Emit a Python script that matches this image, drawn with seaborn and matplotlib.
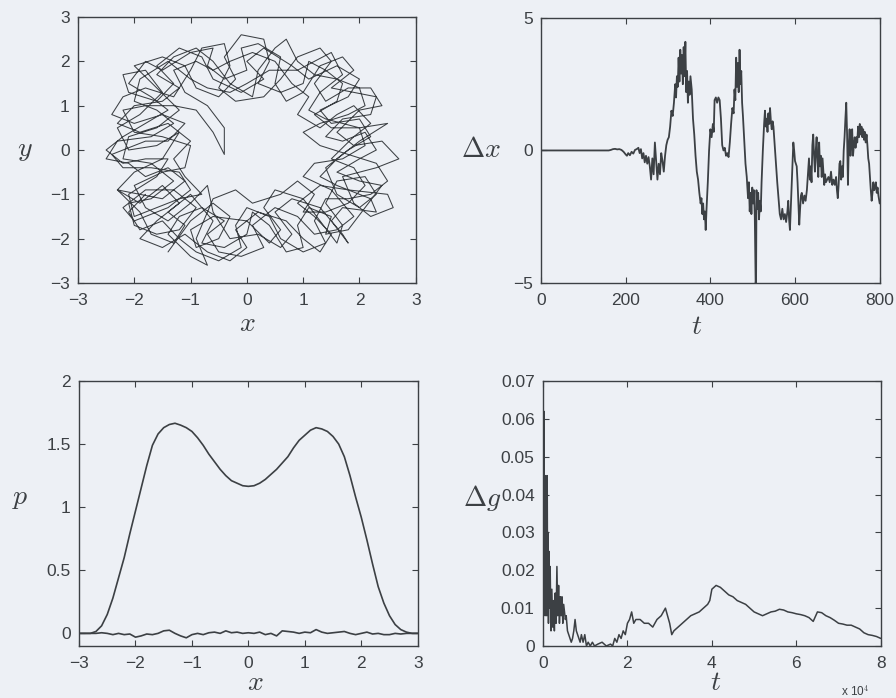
import numpy as np
import pandas as pd
import matplotlib
matplotlib.use("Agg")
import matplotlib.pyplot as plt
import seaborn as sns

# ---------------- data ----------------
# top-left: trajectory (x, y)
traj_x = [-1.4, -1.0, -0.6, -0.3, -0.5, -0.9, -1.0, -0.6, 0.0, 0.4, 0.6, 0.3, 0.5, 1.0, 1.3, 1.6, 1.7, 1.4, 1.6, 2.1,
          2.3, 2.0, 1.6, 1.4, 1.8, 2.2, 2.0, 1.5, 1.3, 1.8, 2.0, 1.6, 1.1, 0.8, 0.3, 0.0, 0.3, -0.1, -0.6, -0.8,
          -1.2, -1.6, -1.3, -1.6, -2.1, -2.2, -1.8, -1.5, -1.9, -2.3, -2.1, -1.6, -1.2, -1.5, -2.0, -2.3, -1.9, -1.5, -1.2, -1.6,
          -1.9, -1.5, -1.1,
          -0.7, -0.3, 0.0, -0.2, 0.2, 0.7, 1.0, 1.3, 1.5, 1.2, 0.9, 1.3, 1.8, 2.5, 2.6, 2.2, 1.9, 1.7, 2.3, 2.7,
          2.4, 1.9, 1.6, 2.0, 2.4, 2.2, 1.8, 1.4, 1.2, 1.5, 1.3, 0.9, 0.6, 0.3, -0.2, -0.5, -0.3, -0.4, -0.8, -1.0,
          -1.3, -1.8, -2.2, -2.4, -2.0, -1.5, -1.1, -1.4, -1.8, -2.4, -2.2, -1.7, -1.2, -1.0, -1.4, -2.0, -2.2, -1.8, -1.3, -0.9,
          -1.2,
          -1.6, -2.0, -2.1, -1.7, -1.3, -1.7, -2.2, -2.1, -1.6, -1.2, -1.6, -2.0, -1.5, -1.1, -0.9, -0.5, -0.2, -0.4, -0.1, 0.3,
          0.4, 0.2, 0.6, 1.0, 1.1, 1.4, 1.7, 1.6, 1.2, 1.5, 2.0, 2.1, 1.7, 1.2, 1.0, 1.5, 1.9, 1.6, 1.2, 0.9,
          0.5, 0.1, 0.3, -0.1, -0.5, -0.7, -0.4, -0.8, -1.2, -1.4, -1.0, -0.7, -0.9,
          -0.6, -0.2, 0.1, 0.6, 0.9, 1.2, 1.0, 1.4, 1.8, 2.1, 1.9, 1.5, 1.9, 2.2, 1.9, 1.6, 1.3, 0.9, 1.1, 0.8,
          0.5, 0.1, -0.3, -0.6, -0.9, -1.3, -1.1, -0.7, -0.4, -0.4, -0.6, -0.9, -1.3, -1.8, -2.2, -2.0, -1.5, -1.0, -1.1, -1.5,
          -2.0, -1.8, -1.4, -1.0, -0.7,
          -0.6, -0.3, 0.2, 0.6, 0.8, 0.5, 0.8, 1.3, 1.7, 1.8, 1.5, 1.7, 2.3, 2.2, 1.6, 1.3, 1.6, 2.0, 2.5, 2.0,
          1.4, 1.1, 1.3, 1.7, 1.5, 1.2, 0.9, 0.4, 0.0, -0.3, -0.7, -1.0, -1.4, -1.9, -2.0, -1.6, -1.3, -1.7, -2.3, -2.5,
          -2.1, -1.8, -1.4, -1.1, -1.5, -2.3,
          -1.9, -1.7, -1.3, -1.1, -1.4, -1.0, -0.6, -0.8, -0.4, 0.0, 0.1, 0.4, 0.7, 1.0, 0.9, 1.1, 1.5, 1.4, 1.8, 2.1,
          2.4, 2.0, 1.6, 2.0, 2.3, 2.1, 1.7, 1.4, 1.7, 2.2, 2.3, 1.9, 1.5, 1.9, 1.7, 1.3, 1.0, 0.7, 0.5, 0.6,
          0.2, -0.1, 0.0, -0.4, -0.7, -0.6, -1.0, -1.5, -1.8, -2.1, -1.7, -1.4, -1.8, -2.2, -2.5, -2.2, -1.8, -1.4, -1.6, -2.1,
          -2.0, -1.6, -1.2,
          -0.8, -1.1, -1.3, -1.0, -1.4, -1.9, -2.3, -2.0, -1.5, -1.2, -1.6, -1.3, -0.9, -0.6, -0.3, 0.1, 0.2, 0.5, 0.7, 0.9,
          1.2, 1.6, 2.0, 2.1, 1.8, 1.3, 1.0, 1.3, 1.8, 2.3, 2.5, 2.2, 1.8, 1.4, 1.2, 1.4, 1.0, 0.6, 0.4, 0.0,
          -0.2, -0.1, -0.5, -0.9, -1.2, -1.5, -1.9, -2.1, -1.8]
traj_y = [-2.3, -1.6, -1.2, -1.5, -2.0, -2.2, -1.8, -1.5, -1.6, -2.1, -1.8, -1.3, -0.9, -1.1, -1.6, -2.1, -1.7, -1.2, -0.7, -0.6,
          -1.0, -1.3, -1.0, -0.4, 0.0, 0.3, 0.7, 0.6, 0.9, 1.2, 1.6, 1.9, 1.6, 1.9, 2.3, 2.0, 1.6, 1.3, 1.6, 2.1,
          2.3, 1.9, 1.5, 1.1, 1.3, 1.7, 1.8, 1.3, 0.8, 0.5, 0.0, 0.1, 0.4, -0.2, -0.5, -0.9, -1.2, -0.8, -1.2, -1.6,
          -2.0, -2.2, -1.9,
          -2.3, -2.5, -2.2, -1.8, -1.4, -1.6, -2.0, -2.3, -1.9, -1.5, -1.2, -0.8, -0.9, -1.0, -1.3, -1.5, -1.2, -0.6, -0.4, -0.2,
          0.2, 0.1, 0.4, 0.9, 1.0, 1.4, 1.4, 1.1, 1.5, 2.0, 2.3, 2.1, 1.6, 1.2, 1.1, 1.4, 1.9, 2.4, 2.3, 1.8,
          1.2, 1.4, 1.2, 0.8, 0.6, 0.8, 0.6, 0.2, 0.2, -0.1, -0.4, -0.4, -0.5, -0.9, -1.3, -1.6, -1.3, -0.9, -0.9, -1.3,
          -1.8,
          -1.9, -1.7, -1.2, -1.1, -0.7, -0.3, -0.2, 0.3, 0.5, 0.9, 1.4, 1.9, 2.1, 1.9, 1.4, 1.2, 1.6, 2.1, 2.6, 2.5,
          2.0, 1.5, 1.3, 1.5, 2.0, 1.8, 1.5, 1.1, 0.8, 0.5, 0.5, 0.1, -0.2, -0.3, -0.6, -0.9, -1.5, -1.8, -1.9, -1.5,
          -1.3, -1.7, -2.2, -2.4, -2.3, -1.9, -1.6, -1.3, -1.5, -1.9, -2.4, -2.6, -2.0,
          -1.1, -0.9, -1.2, -1.0, -0.7, -1.0, -1.4, -1.4, -1.2, -0.8, -0.4, -0.2, 0.3, 0.6, 1.0, 0.8, 0.5, 0.8, 1.2, 1.5,
          2.0, 2.2, 2.0, 1.8, 2.0, 1.8, 1.3, 1.0, 0.5, -0.1, 0.4, 0.9, 1.0, 1.0, 0.9, 0.4, 0.3, 0.1, -0.4, -0.5,
          -0.8, -1.3, -1.6, -1.2, -0.8,
          -1.4, -2.0, -1.9, -2.2, -1.9, -1.4, -1.1, -1.3, -1.9, -2.1, -1.6, -1.3, -1.4, -1.1, -0.8, -0.6, -0.2, 0.2, 0.6, 0.5,
          0.7, 0.9, 1.3, 1.7, 2.2, 2.0, 1.8, 1.8, 1.5, 1.3, 1.4, 1.6, 2.0, 1.6, 1.1, 0.9, 0.6, 0.3, 0.2, -0.2,
          -0.3, -0.6, -0.4, -0.7, -1.1, -0.9,
          -1.4, -1.9, -2.1, -1.7, -1.4, -1.0, -1.6, -2.1, -2.2, -1.9, -1.4, -1.7, -2.3, -2.2, -1.7, -1.3, -1.5, -1.9, -1.8, -1.3,
          -0.8, -0.7, -0.5, -0.2, 0.0, 0.4, 0.2, 0.3, 0.7, 0.8, 1.2, 1.3, 1.4, 1.8, 2.1, 1.9, 1.3, 1.1, 1.5, 2.1,
          2.4, 2.3, 1.8, 1.6, 1.9, 2.3, 2.2, 1.8, 2.0, 1.5, 1.2, 0.9, 0.6, 0.3, 0.0, -0.3, -0.2, -0.2, -0.6, -1.0,
          -1.5, -1.3, -1.1,
          -1.0, -0.6, -0.2, 0.2, 0.6, 0.4, 0.6, 1.0, 1.1, 1.4, 1.7, 2.1, 2.3, 2.0, 1.5, 1.2, 1.8, 2.3, 2.5, 2.0,
          1.7, 1.6, 1.4, 1.0, 0.8, 0.6, 0.4, 0.1, -0.1, -0.3, -0.7, -1.0, -1.1, -1.1, -1.6, -2.1, -2.3, -2.0, -1.5, -1.3,
          -1.7, -2.2, -2.5, -2.3, -2.0, -1.6, -1.8, -1.4, -1.0]

# top-right: displacement difference vs time
t_dx = [0, 50, 100, 150, 160, 165, 170, 175, 180, 185, 190, 195, 200, 203, 206, 210, 214, 218, 222, 226,
        230, 233, 236, 239, 242, 245, 248, 251, 254, 257, 260, 263, 266, 269, 272, 275, 278, 281, 284, 287,
        290, 293, 296, 299, 302, 305, 308, 311, 314, 317, 319, 321, 323, 325, 327, 329, 331, 333, 335, 337,
        339, 341, 343, 345, 347, 349, 351, 353, 356, 359, 362, 365, 368, 371, 374, 377, 379, 381, 383, 385,
        387, 389, 391, 394, 397, 400, 403, 406, 408, 410, 413, 416, 419, 422, 425, 428, 431, 434, 437, 440,
        443, 446, 449, 452, 455, 457, 459, 461, 463, 465, 467, 469, 471, 473, 475, 477, 480, 483, 486, 489,
        491, 493, 495, 497, 499, 501, 503, 505, 507, 508, 509, 511, 513, 515, 517, 519, 521, 524, 527, 529,
        531, 533, 535, 537, 539, 541, 543, 545, 547, 549, 552, 555, 558, 561, 564, 567, 570, 573, 576, 579,
        582, 584, 586, 588, 590, 592, 594, 596, 598, 600, 602, 604, 606, 608, 610, 612, 614, 616, 619, 622,
        625, 628, 631, 633, 635, 637, 639, 641, 643, 645, 647, 649, 651, 653, 655, 657, 659, 661, 663, 665,
        667, 669, 671, 673, 676, 679, 682, 685, 688, 691, 694, 697, 699, 701, 703, 705, 707, 709, 711, 713,
        715, 717, 719, 721, 723, 725, 727, 729, 731, 733, 735, 737, 739, 741, 743, 745, 747, 749, 751, 753,
        755, 757, 759, 761, 763, 765, 767, 769, 771, 773, 775, 777, 779, 781, 783, 785, 787, 789, 791, 793,
        795, 797, 800]
dx = [0, 0, 0, 0, 0, 0.02, 0.05, 0.06, 0.04, 0.05, 0.02, -0.05, -0.15, -0.2, -0.1, -0.18, -0.05, -0.12, 0.02, 0.05,
      0.1, -0.1, 0.05, -0.3, -0.1, -0.45, -0.2, -0.5, -0.25, -0.6, -1.1, -0.3, -0.9, 0.3, -0.4, -1.1, -0.5, -0.9, -0.1, -0.4,
      -0.8, -0.2, 0.2, 0.4, 0.5, 0.9, 1.5, 1.3, 1.8, 2.5, 2.0, 2.8, 2.4, 3.5, 2.6, 3.8, 2.9, 3.6, 2.5, 3.9,
      2.8, 4.1, 2.2, 3.0, 1.8, 2.6, 2.1, 2.8, 2.3, 1.2, 0.6, -0.2, -0.8, -1.1, -1.6, -2.0, -1.8, -2.4, -2.0, -2.6,
      -2.3, -3.0, -2.2, -1.2, 0.0, 0.8, 0.5, 1.0, 0.7, 1.9, 2.0, 1.8, 2.0, 1.9, 1.2, 0.2, 0.0, 0.1, -0.2, -0.1,
      -0.25, 0.3, 1.0, 1.6, 1.4, 2.3, 1.9, 3.5, 2.4, 3.3, 2.2, 3.8, 2.5, 3.0, 1.8, 1.3, 0.4, -0.5, -1.0, -1.8,
      -1.2, -2.3, -1.6, -2.4, -1.4, -2.0, -1.5, -2.5, -5.0, -4.9, -1.5, -2.2, -1.6, -2.6, -1.9, -2.3, -1.2, 0.0, 1.0, 1.5,
      0.9, 1.2, 0.7, 1.4, 1.0, 1.6, 1.1, 0.8, 1.1, 0.9, 0.2, -0.5, -1.2, -1.8, -2.4, -2.6, -2.2, -2.6, -2.4, -2.7,
      -2.3, -1.9, -2.6, -3.0, -2.2, -1.5, -0.6, 0.3, 0.0, -0.4, -0.5, -0.6, -1.2, -2.0, -2.8, -2.2, -1.7, -1.6, -2.0, -1.7,
      -1.9, -1.5, -0.8, -0.3, -1.1, -0.6, -1.2, 0.2, 0.6, -0.2, -0.8, 0.0, 0.5, -0.4, -1.0, 0.3, -0.6, -0.2, -1.0, -0.3,
      -0.8, -1.3, -0.9, -1.2, -1.1, -1.0, -1.2, -0.8, -1.3, -1.1, -1.3, -1.0, -1.5, -1.8, -1.3, -0.5, -0.4, -1.1, -0.6, -1.0,
      0.0, 0.5, 1.2, 1.8, 0.6, -1.3, 0.2, 0.8, -0.2, 0.4, 0.8, -0.2, 0.2, 0.5, 0.1, 0.5, 0.3, 0.9, 0.5, 1.0,
      0.6, 0.9, 0.5, 0.8, 0.4, 0.7, 0.3, 0.6, 0.2, -0.3, -0.5, -1.0, -1.5, -1.9, -1.6, -1.2, -1.5, -1.4, -1.2, -1.6,
      -1.4, -1.7, -2.0]

# bottom-left: density p(x) and difference
x_p = [-3.0, -2.9, -2.8, -2.7, -2.6, -2.5, -2.4, -2.3, -2.2, -2.1, -2.0, -1.9, -1.8, -1.7, -1.6, -1.5, -1.4, -1.3, -1.2, -1.1,
       -1.0, -0.9, -0.8, -0.7, -0.6, -0.5, -0.4, -0.3, -0.2, -0.1, 0.0, 0.1, 0.2, 0.3, 0.4, 0.5, 0.6, 0.7, 0.8, 0.9,
       1.0, 1.1, 1.2, 1.3, 1.4, 1.5, 1.6, 1.7, 1.8, 1.9, 2.0, 2.1, 2.2, 2.3, 2.4, 2.5, 2.6, 2.7, 2.8, 2.9, 3.0]
p_vals = [0.0, 0.0, 0.0, 0.015, 0.06, 0.15, 0.28, 0.44, 0.6, 0.79, 0.97, 1.15, 1.33, 1.49, 1.58, 1.63, 1.655, 1.665, 1.65, 1.63,
          1.60, 1.55, 1.49, 1.42, 1.36, 1.30, 1.25, 1.21, 1.19, 1.17, 1.165, 1.17, 1.19, 1.22, 1.26, 1.30, 1.35, 1.40, 1.47, 1.53,
          1.57, 1.61, 1.63, 1.62, 1.60, 1.56, 1.50, 1.40, 1.25, 1.08, 0.92, 0.74, 0.55, 0.37, 0.24, 0.14, 0.07, 0.03, 0.01, 0.0, 0.0]
p_diff = [0.0, 0.0, 0.0, 0.0, 0.005, 0.0, -0.01, 0.0, -0.01, -0.005, -0.03, -0.02, -0.005, -0.01, 0.0, 0.02, 0.025, 0.0, -0.02, -0.035,
          -0.01, 0.0, -0.01, 0.005, 0.01, 0.0, 0.02, 0.005, 0.01, 0.0, 0.005, 0.0, 0.01, -0.01, 0.0, -0.02, 0.02, 0.015, 0.01, 0.0,
          0.01, 0.005, 0.03, 0.01, 0.0, 0.005, 0.01, 0.015, 0.0, -0.01, 0.0, 0.01, -0.005, 0.0, -0.01, -0.01, 0.0, -0.005, 0.0, 0.0, 0.0]

# bottom-right: Δg vs t (units of 1e4)
t_g = [0.0, 0.02, 0.03, 0.04, 0.05, 0.06, 0.07, 0.08, 0.09, 0.10, 0.11, 0.12, 0.13, 0.14, 0.15, 0.17, 0.19, 0.21, 0.23, 0.25,
       0.27, 0.29, 0.31, 0.33, 0.35, 0.37, 0.39, 0.41, 0.43, 0.45, 0.47, 0.49, 0.51, 0.53, 0.55, 0.58, 0.61, 0.64, 0.67, 0.70,
       0.73, 0.76, 0.79, 0.82, 0.85, 0.88, 0.91, 0.95, 0.99, 1.03, 1.07, 1.12, 1.17, 1.22, 1.3, 1.4, 1.5, 1.6, 1.65, 1.7,
       1.75, 1.8, 1.85, 1.9, 1.95, 2.0, 2.05, 2.1, 2.15, 2.2, 2.3, 2.4, 2.5, 2.6, 2.7, 2.8, 2.85, 2.9, 2.95, 3.0,
       3.05, 3.1, 3.2, 3.3, 3.4, 3.5, 3.6, 3.7, 3.8, 3.9, 3.95, 4.0, 4.1, 4.2, 4.3, 4.4, 4.5, 4.6, 4.7, 4.8,
       4.9, 5.0, 5.1, 5.2, 5.3, 5.4, 5.5, 5.6, 5.7, 5.8, 5.9, 6.0, 6.1, 6.2, 6.3, 6.4, 6.5, 6.6, 6.7, 6.8,
       6.9, 7.0, 7.1, 7.2, 7.3, 7.4, 7.5, 7.6, 7.7, 7.8, 7.9, 8.0]
dg = [0.005, 0.062, 0.01, 0.04, 0.008, 0.045, 0.012, 0.035, 0.008, 0.045, 0.01, 0.03, 0.006, 0.025, 0.01, 0.021, 0.004, 0.015, 0.005, 0.012,
      0.004, 0.014, 0.006, 0.021, 0.008, 0.016, 0.006, 0.013, 0.008, 0.013, 0.006, 0.011, 0.009, 0.007, 0.008, 0.004, 0.003, 0.002, 0.001, 0.002,
      0.004, 0.007, 0.004, 0.003, 0.002, 0.001, 0.003, 0.001, 0.003, 0.0, 0.001, 0.0, 0.001, 0.0, 0.0005, 0.001, 0.0, 0.0005, 0.0, 0.002,
      0.001, 0.003, 0.002, 0.004, 0.003, 0.006, 0.007, 0.009, 0.006, 0.007, 0.007, 0.006, 0.006, 0.005, 0.007, 0.008, 0.009, 0.010, 0.008, 0.006,
      0.003, 0.004, 0.005, 0.006, 0.007, 0.008, 0.0085, 0.009, 0.010, 0.011, 0.012, 0.015, 0.016, 0.0155, 0.0145, 0.0135, 0.013, 0.012, 0.0115, 0.011,
      0.010, 0.009, 0.0085, 0.008, 0.0085, 0.009, 0.0092, 0.0097, 0.0095, 0.009, 0.0088, 0.0085, 0.0083, 0.008, 0.0075, 0.0065, 0.009, 0.0088, 0.008, 0.0075,
      0.0068, 0.006, 0.0058, 0.0055, 0.0055, 0.005, 0.0045, 0.0035, 0.003, 0.0028, 0.0025, 0.002]

# tick labels
tl_ticks = [-3, -2, -1, 0, 1, 2, 3]
tr_xticks = [0, 200, 400, 600, 800]
tr_yticks = [-5, 0, 5]
bl_yticks = [0, 0.5, 1, 1.5, 2]
bl_ylabels = ["0", "0.5", "1", "1.5", "2"]
br_xticks = [0, 2, 4, 6, 8]
br_yticks = [0, 0.01, 0.02, 0.03, 0.04, 0.05, 0.06, 0.07]
br_ylabels = ["0", "0.01", "0.02", "0.03", "0.04", "0.05", "0.06", "0.07"]

# ---------------- style ----------------
sns.set_theme(style="ticks")
BG = "#edf0f5"
INK = "#3c4044"
plt.rcParams["font.family"] = ["Liberation Sans", "DejaVu Sans"]
plt.rcParams["mathtext.fontset"] = "cm"
plt.rcParams.update({
    "xtick.direction": "in", "ytick.direction": "in",
    "xtick.top": True, "ytick.right": True,
    "xtick.major.size": 4, "ytick.major.size": 4,
    "xtick.major.width": 0.8, "ytick.major.width": 0.8,
    "xtick.color": INK, "ytick.color": INK,
    "xtick.labelsize": 12.5, "ytick.labelsize": 12.5,
    "xtick.major.pad": 7, "ytick.major.pad": 6,
    "axes.edgecolor": INK, "axes.linewidth": 1.0,
    "text.color": INK,
})

fig = plt.figure(figsize=(8.96, 6.98), dpi=100, facecolor=BG)
ax_tl = fig.add_axes([0.087, 0.5946, 0.377, 0.381])
ax_tr = fig.add_axes([0.6038, 0.5946, 0.378, 0.3797])
ax_bl = fig.add_axes([0.0882, 0.0745, 0.378, 0.3797])
ax_br = fig.add_axes([0.606, 0.0745, 0.377, 0.3797])
for ax in (ax_tl, ax_tr, ax_bl, ax_br):
    ax.set_facecolor(BG)
    for s in ax.spines.values():
        s.set_visible(True)

LBL = 20

def set_labels(ax, xl, yl, xc, yc):
    ax.set_xlabel(xl, fontsize=LBL, color=INK, va="center", ha="center")
    ax.set_ylabel(yl, fontsize=LBL, color=INK, rotation=0, va="center", ha="center")
    ax.xaxis.set_label_coords(*xc)
    ax.yaxis.set_label_coords(*yc)

# top-left trajectory
df_traj = pd.DataFrame({"x": traj_x, "y": traj_y})
sns.lineplot(data=df_traj, x="x", y="y", sort=False, estimator=None, ax=ax_tl,
             color=INK, lw=0.75)
ax_tl.set_xlim(-3, 3)
ax_tl.set_ylim(-3, 3)
ax_tl.set_xticks(tl_ticks)
ax_tl.set_yticks(tl_ticks)
set_labels(ax_tl, r"$x$", r"$y$", (0.5, -0.155), (-0.157, 0.5))

# top-right Δx
df_dx = pd.DataFrame({"t": t_dx, "dx": dx})
sns.lineplot(data=df_dx, x="t", y="dx", estimator=None, ax=ax_tr, color=INK, lw=1.3)
ax_tr.set_xlim(0, 800)
ax_tr.set_ylim(-5, 5)
ax_tr.set_xticks(tr_xticks)
ax_tr.set_yticks(tr_yticks)
set_labels(ax_tr, r"$t$", r"$\Delta x$", (0.46, -0.165), (-0.177, 0.5))

# bottom-left p
df_p = pd.DataFrame({"x": x_p, "p": p_vals, "d": p_diff})
sns.lineplot(data=df_p, x="x", y="p", estimator=None, ax=ax_bl, color=INK, lw=1.2)
sns.lineplot(data=df_p, x="x", y="d", estimator=None, ax=ax_bl, color=INK, lw=1.2)
ax_bl.set_xlim(-3, 3)
ax_bl.set_ylim(-0.1, 2)
ax_bl.set_xticks(tl_ticks)
ax_bl.set_yticks(bl_yticks)
ax_bl.set_yticklabels(bl_ylabels)
set_labels(ax_bl, r"$x$", r"$p$", (0.52, -0.14), (-0.174, 0.558))

# bottom-right Δg
df_g = pd.DataFrame({"t": t_g, "g": dg})
sns.lineplot(data=df_g, x="t", y="g", estimator=None, ax=ax_br, color=INK, lw=1.1)
ax_br.set_xlim(0, 8)
ax_br.set_ylim(0, 0.07)
ax_br.set_xticks(br_xticks)
ax_br.set_yticks(br_yticks)
ax_br.set_yticklabels(br_ylabels)
set_labels(ax_br, r"$t$", r"$\Delta g$", (0.51, -0.14), (-0.18, 0.558))
ax_br.text(0.925, -0.17, r"x 10$^4$", transform=ax_br.transAxes, fontsize=8.5,
           ha="center", va="center", color=INK)

fig.savefig("out.png", dpi=100, facecolor=BG)
